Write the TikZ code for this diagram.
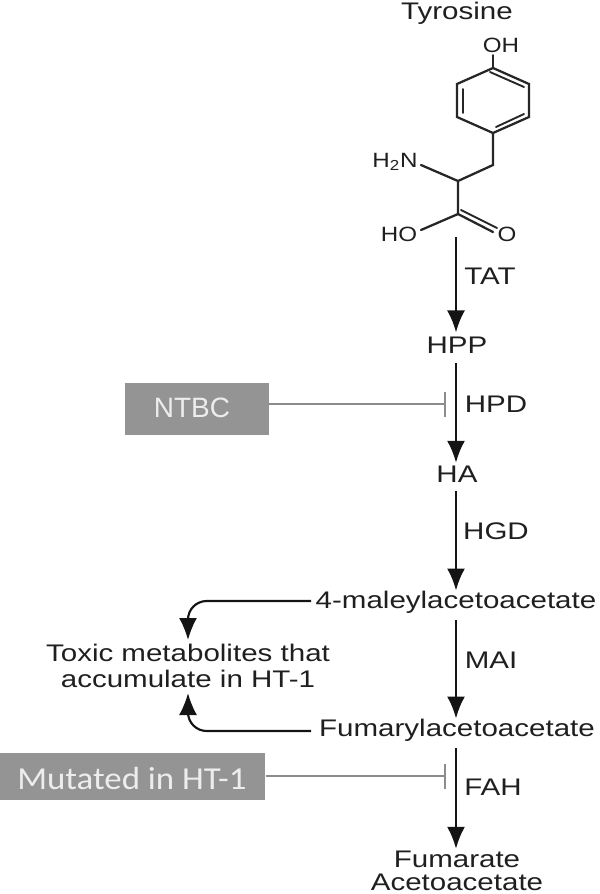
\documentclass[tikz,border=0pt]{standalone}
\usepackage{fontspec}
\setmainfont{Liberation Sans}
\usetikzlibrary{arrows.meta}
\newfontfamily\boxfont{Carlito}
\tikzset{
 x=0.75pt,y=-0.75pt,
 lab/.style={inner sep=0pt,font=\fontsize{18}{18}\selectfont,text=black!88,xscale=1.23,align=center},
 small/.style={inner sep=0pt,font=\fontsize{15.5}{17}\selectfont,text=black!88,xscale=1.17},
 bond/.style={line width=1.7pt,black!85,line cap=round},
 flow/.style={line width=1.9pt,black!92,-{Latex[length=22pt*0.75,width=18pt*0.75]}},
 side/.style={line width=1.6pt,black!92,rounded corners=14pt,-{Latex[length=22pt*0.75,width=18pt*0.75]}},
 graybox/.style={fill=black!42,draw=none,inner sep=0pt,text=white!93!black},
 inhibit/.style={line width=1.5pt,black!45,-{Bar[width=25pt*0.75,line width=1.5pt]}}
}
\begin{document}
\begin{tikzpicture}
\useasboundingbox (0,0) rectangle (600,894);
\node[lab] (tyr) at (457,13) {Tyrosine};
\node[small] (oh) at (501,45) {OH};
\node[small] (nh) at (395,162) {H\textsubscript{2}N};
\node[small] (ho) at (399,234) {HO};
\node[small] (o) at (507,234) {O};
\coordinate (r1) at (493,68); \coordinate (r2) at (529,84); \coordinate (r3) at (529,117);
\coordinate (r4) at (493,133); \coordinate (r5) at (457,117); \coordinate (r6) at (457,84);
\coordinate (c1) at (493,165); \coordinate (c2) at (458,181); \coordinate (c3) at (458,214);
\draw[bond] (r1)--(r2)--(r3)--(r4)--(r5)--(r6)--cycle;
\draw[bond,line width=1.4pt] (490,72)--(524,87) (524,114)--(496,127) (463,89)--(463,113);
\draw[bond,line width=1.3pt] (493,55)--(r1);
\draw[bond] (r4)--(c1)--(c2)--(c3) (c2)--(421,165) (c3)--(421,230);
\draw[bond] (c3)--(493,232);
\draw[bond,line width=1.4pt] (461,210)--(497,228);
\node[lab] (hpp) at (457,345) {HPP};
\node[lab] (ha) at (457,474) {HA};
\node[lab] (mal) at (456,602) {4-maleylacetoacetate};
\node[lab] (fum) at (457,730) {Fumarylacetoacetate};
\node[lab] (end) at (457,871) {Fumarate\\[-0.75pt]Acetoacetate};
\node[lab] (tox) at (188,666) {Toxic metabolites that\\[1pt]accumulate in HT-1};
\node[lab] (tat) at (490,276) {TAT};
\node[lab] (hpd) at (496,404) {HPD};
\node[lab] (hgd) at (496,531) {HGD};
\node[lab] (mai) at (491,660) {MAI};
\node[lab] (fah) at (493,787) {FAH};
\node[graybox,minimum width=144pt*0.75,minimum height=52pt*0.75] (ntbc) at (197,409) {};
\node[inner sep=0pt,text=white!93!black] (ntbclab) at (192,408) {\fontsize{21}{24}\selectfont NTBC};
\node[graybox,minimum width=265pt*0.75,minimum height=47pt*0.75,anchor=west] (mut) at (0,776.5) {};
\node[inner sep=0pt,text=white!93!black,anchor=west,xscale=1.09] (mutlab) at (17,778) {\fontsize{24}{26}\selectfont\boxfont Mutated in HT-1};
\coordinate (a1) at (456,237);
\coordinate (a2) at (456,363);
\coordinate (a3) at (456,491);
\coordinate (a4) at (456,620);
\coordinate (a5) at (456,748);
\draw[flow,shorten >=3pt] (a1) -- (hpp.north -| a1);
\draw[flow,shorten >=2pt] (a2) -- (ha.north -| a2);
\draw[flow] (a3) -- (mal.north -| a3);
\draw[flow] (a4) -- (fum.north -| a4);
\draw[flow,shorten >=1.5pt] (a5) -- (end.north -| a5);
\coordinate (t1) at (188,640);
\coordinate (t2) at (188,693);
\coordinate (b1) at (188,601);
\coordinate (b2) at (188,731);
\coordinate (m1) at (311,601);
\coordinate (f1) at (311,731);
\draw[side] (m1) -- (b1) -- (t1);
\draw[side] (f1) -- (b2) -- (t2);
\coordinate (i1) at (446,404);
\coordinate (i2) at (446,776);
\draw[inhibit] (ntbc.east |- i1) -- (i1);
\draw[inhibit] (mut.east |- i2) -- (i2);
\end{tikzpicture}
\end{document}
